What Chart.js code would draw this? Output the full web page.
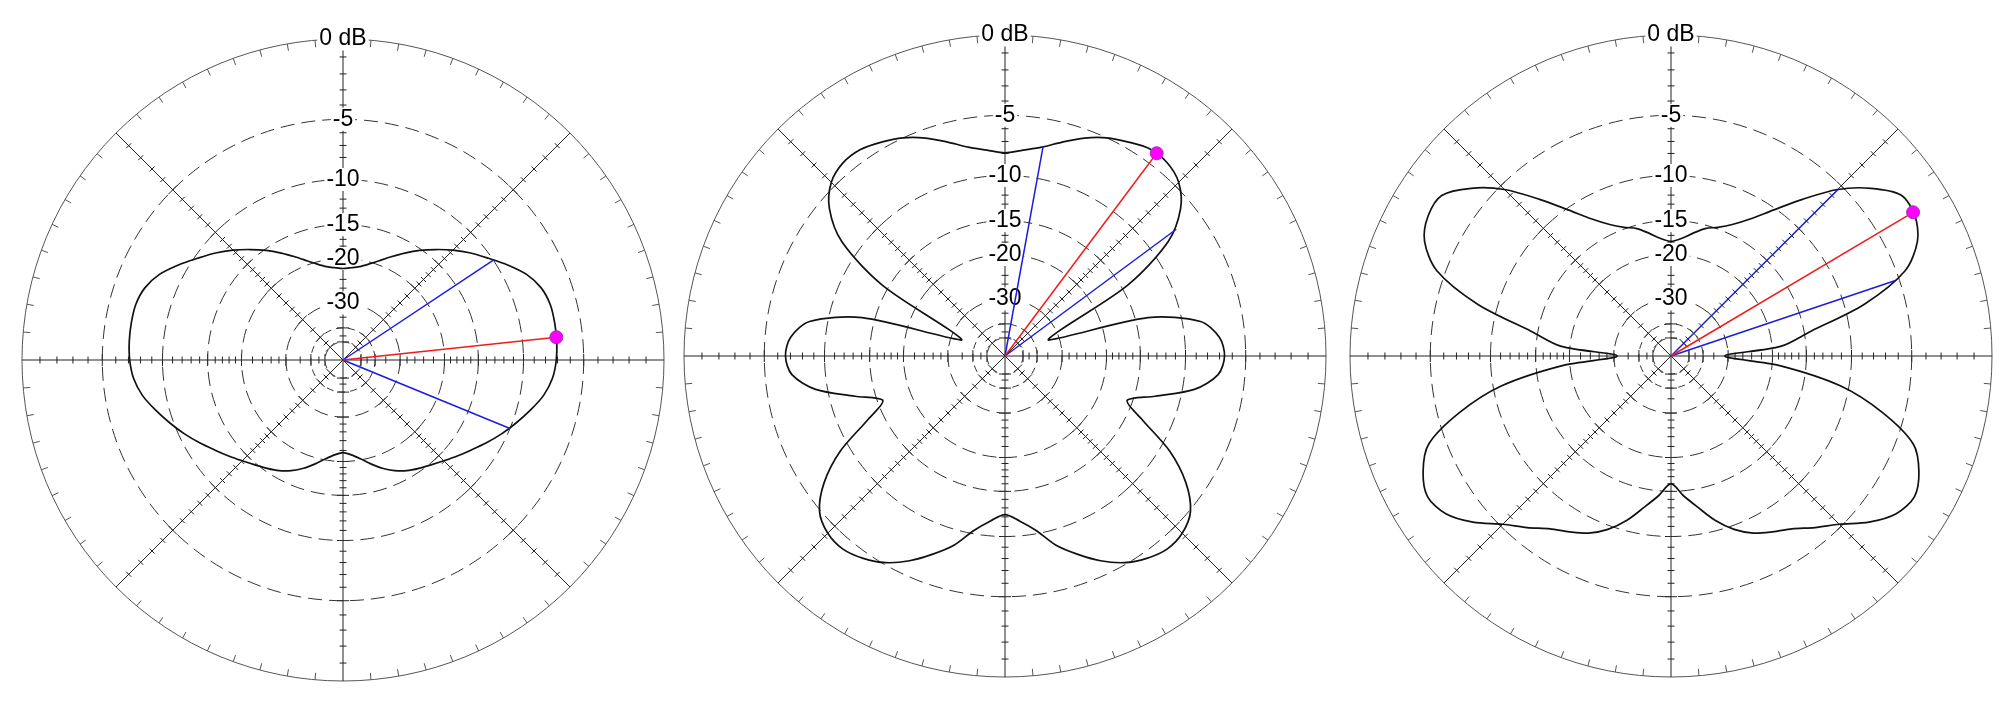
<!DOCTYPE html>
<html>
<head>
<meta charset="utf-8">
<script src="https://cdn.jsdelivr.net/npm/chart.js@4.4.1/dist/chart.umd.min.js"></script>
<style>
  body { margin: 0; background: #fff; width: 2000px; height: 726px; overflow: hidden; position: relative; }
  canvas { position: absolute; }
</style>
</head>
<body>
<canvas id="plot1" width="665" height="665" style="left:11px;top:28px;width:665px;height:665px"></canvas>
<canvas id="plot2" width="665" height="665" style="left:673px;top:24px;width:665px;height:665px"></canvas>
<canvas id="plot3" width="665" height="665" style="left:1339px;top:24px;width:665px;height:665px"></canvas>
<script>
// sample directions, degrees clockwise from the top
const angles = [
  0, 5, 10, 15, 20, 25, 30, 35, 40, 45, 50, 55, 60, 65, 70, 75, 80, 85,
  90, 95, 100, 105, 110, 115, 120, 125, 130, 135, 140, 145, 150, 155, 160, 165, 170, 175,
  180, 185, 190, 195, 200, 205, 210, 215, 220, 225, 230, 235, 240, 245, 250, 255, 260, 265,
  270, 275, 280, 285, 290, 295, 300, 305, 310, 315, 320, 325, 330, 335, 340, 345, 350, 355
];

// gain in dB at each direction above
const pattern1 = [
  -21.8, -21.6, -21.2, -20.4, -19.3, -18.0, -16.6, -15.2, -13.9, -12.6, -11.4, -10.3, -9.1, -8.0, -7.3, -7.0, -6.97, -7.0,
  -7.1, -7.35, -7.9, -8.75, -9.65, -10.55, -11.5, -12.45, -13.3, -14.1, -14.8, -15.4, -16.0, -16.8, -17.8, -19.0, -20.2, -21.1,
  -21.6, -21.1, -20.2, -19.0, -17.8, -16.8, -16.0, -15.4, -14.8, -14.1, -13.3, -12.45, -11.5, -10.55, -9.65, -8.75, -7.9, -7.35,
  -7.1, -7.0, -6.97, -7.0, -7.3, -8.0, -9.1, -10.3, -11.4, -12.6, -13.9, -15.2, -16.6, -18.0, -19.3, -20.4, -21.2, -21.6
];
const pattern2 = [
  -7.95, -7.65, -7.2, -6.45, -5.65, -5.0, -4.55, -4.15, -4.18, -4.65, -5.85, -8.3, -14.2, -29.1, -33.5, -13.45, -8.35, -6.95,
  -6.6, -7.05, -8.9, -12.6, -15.7, -13.0, -9.1, -6.5, -4.9, -4.3, -4.2, -4.55, -5.15, -6.1, -7.3, -8.6, -10.35, -11.5,
  -12.24, -11.5, -10.35, -8.6, -7.3, -6.1, -5.15, -4.55, -4.2, -4.3, -4.9, -6.5, -9.1, -13.0, -15.7, -12.6, -8.9, -7.05,
  -6.6, -6.95, -8.35, -13.45, -33.5, -29.1, -14.2, -8.3, -5.85, -4.65, -4.2, -4.2, -4.55, -5.0, -5.65, -6.45, -7.2, -7.65
];
const pattern3 = [
  -17.9, -17.4, -16.45, -15.45, -14.8, -13.8, -12.3, -10.24, -7.83, -5.38, -3.6, -2.33, -2.28, -2.88, -4.4, -8.2, -14.2, -18.6,
  -31.0, -18.9, -10.85, -6.64, -3.8, -2.78, -2.3, -2.69, -3.76, -5.2, -6.25, -7.29, -7.96, -8.62, -9.62, -11.04, -12.82, -14.41,
  -16.02, -14.41, -12.82, -11.04, -9.62, -8.62, -7.96, -7.29, -6.25, -5.2, -3.76, -2.69, -2.3, -2.78, -3.8, -6.64, -10.85, -18.9,
  -31.0, -18.6, -14.2, -8.2, -4.4, -2.88, -2.35, -2.38, -3.6, -5.38, -7.83, -10.24, -12.3, -13.8, -14.8, -15.45, -16.45, -17.4
];

// main beam and -3 dB points (same angle convention)
const peakAngle = [83.9, 36.8, 59.3];
const peakDb = [-7.0, -4.12, -2.28];
const halfPowerAngles = [[56.4, 112.3], [10.3, 53.5], [45.1, 71.4]];
const halfPowerDb = [-10.0, -7.12, -5.28];

// rings and their labels
const ringDb = [0, -5, -10, -15, -20, -30, -40, -50];
const ringLabels = ['0 dB', '-5', '-10', '-15', '-20', '-30', '', ''];
const axisTickDb = [-1, -2, -3, -4, -6, -7, -8, -9, -11, -12, -13, -14, -16, -17, -18, -19, -22, -24, -26, -28, -35, -45];

// radius grows as 10^(dB/40)
const toRadial = (db) => Math.pow(10, db / 40);

function line(ctx, x1, y1, x2, y2) {
  ctx.beginPath();
  ctx.moveTo(x1, y1);
  ctx.lineTo(x2, y2);
  ctx.stroke();
}

function decorations(k) {
  return {
    id: "decor" + k,
    beforeDraw(chart) {
      const r = chart.scales.r;
      const ctx = chart.ctx;
      const R = r.drawingArea;
      ctx.save();
      ctx.lineWidth = 1;
      // small marks inside the outer circle
      ctx.strokeStyle = "#555";
      angles.forEach((a, i) => {
        if (a % 45 === 0) return;
        const p = r.getPointPosition(i, R);
        const q = r.getPointPosition(i, R - 7);
        line(ctx, p.x, p.y, q.x, q.y);
      });
      // dB marks across the axes
      ctx.strokeStyle = "#222";
      const marks = axisTickDb.concat(ringDb.slice(1));
      angles.forEach((a, i) => {
        if (a % 45 !== 0) return;
        marks.forEach((db) => {
          const p = r.getPointPosition(i, r.getDistanceFromCenterForValue(toRadial(db)));
          const half = ringDb.includes(db) ? 6 : 3.5;
          const nx = -Math.sin(p.angle) * half;
          const ny = Math.cos(p.angle) * half;
          line(ctx, p.x - nx, p.y - ny, p.x + nx, p.y + ny);
        });
      });
      ctx.restore();
    },
    afterDatasetsDraw(chart) {
      const r = chart.scales.r;
      const ctx = chart.ctx;
      const step = 360 / angles.length;
      const at = (deg, db) => r.getPointPosition(deg / step, r.getDistanceFromCenterForValue(toRadial(db)));
      ctx.save();
      ctx.lineWidth = 1.5;
      ctx.strokeStyle = "#1c1cdc";
      halfPowerAngles[k].forEach((deg) => {
        const p = at(deg, halfPowerDb[k]);
        line(ctx, r.xCenter, r.yCenter, p.x, p.y);
      });
      const pk = at(peakAngle[k], peakDb[k]);
      ctx.strokeStyle = "#f01c1c";
      line(ctx, r.xCenter, r.yCenter, pk.x, pk.y);
      ctx.beginPath();
      ctx.arc(pk.x, pk.y, 6.5, 0, Math.PI * 2);
      ctx.fillStyle = "#ff00ff";
      ctx.fill();
      ctx.lineWidth = 1;
      ctx.strokeStyle = "#a030c0";
      ctx.stroke();
      ctx.restore();
    },
  };
}

function makePolar(id, pattern, k) {
  const ctx = document.getElementById(id).getContext("2d");
  return new Chart(ctx, {
    type: "radar",
    data: {
      labels: angles.map(String),
      datasets: [
        {
          data: pattern.map(toRadial),
          borderColor: "#111",
          borderWidth: 1.7,
          borderJoinStyle: "round",
          pointRadius: 0,
          fill: false,
          tension: 0.3,
        },
      ],
    },
    options: {
      responsive: false,
      animation: false,
      events: [],
      layout: { padding: 0 },
      plugins: {
        legend: { display: false },
        tooltip: { enabled: false },
      },
      scales: {
        r: {
          min: 0,
          max: 1,
          startAngle: 0,
          afterBuildTicks: (axis) => {
            axis.ticks = [{ value: 0 }].concat(
              ringDb.slice().reverse().map((db) => ({ value: toRadial(db) }))
            );
          },
          ticks: {
            callback: (value, index) => (index === 0 ? "" : ringLabels[ringDb.length - index]),
            font: { family: "Liberation Sans", size: 23, lineHeight: 1 },
            color: "#000",
            backdropColor: (c) => (c.index >= ringDb.length - 5 ? "#fff" : "rgba(0,0,0,0)"),
            backdropPadding: { x: 2, y: 0 },
          },
          grid: {
            circular: true,
            color: (c) => (c.index === ringDb.length ? "#555" : "#333"),
            lineWidth: 1,
          },
          border: {
            dash: (c) => (c.index === ringDb.length ? [] : c.index <= 2 ? [7, 5] : [14, 7]),
          },
          angleLines: {
            color: "#222",
            lineWidth: (c) => (angles[c.index] % 45 === 0 ? 1 : 0),
          },
          pointLabels: { display: false },
        },
      },
    },
    plugins: [decorations(k)],
  });
}

const chart1 = makePolar("plot1", pattern1, 0);
const chart2 = makePolar("plot2", pattern2, 1);
const chart3 = makePolar("plot3", pattern3, 2);
</script>
</body>
</html>
